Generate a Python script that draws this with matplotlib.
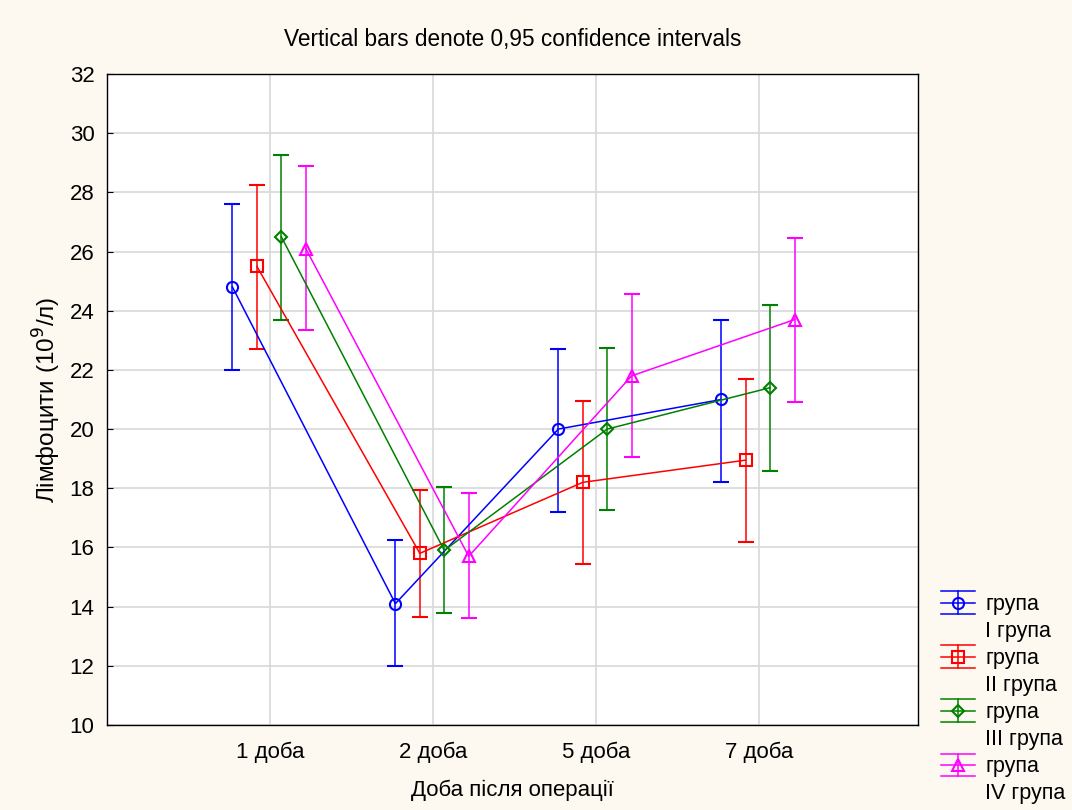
import numpy as np
import matplotlib.pyplot as plt
from matplotlib.lines import Line2D
from matplotlib.patches import Rectangle
from matplotlib.legend_handler import HandlerBase

plt.rcParams['font.family'] = ['Liberation Sans', 'DejaVu Sans']

days = ['1 доба', '2 доба', '5 доба', '7 доба']
group_names = ['I група', 'II група', 'III група', 'IV група']

# means and 95% CI bounds
mean_1 = [24.8, 14.1, 20.0, 21.0]
low_1 = [22.0, 12.0, 17.2, 18.2]
high_1 = [27.6, 16.25, 22.7, 23.7]

mean_2 = [25.5, 15.8, 18.2, 18.95]
low_2 = [22.7, 13.65, 15.45, 16.2]
high_2 = [28.25, 17.95, 20.95, 21.7]

mean_3 = [26.5, 15.9, 20.0, 21.4]
low_3 = [23.7, 13.8, 17.25, 18.6]
high_3 = [29.25, 18.05, 22.75, 24.2]

mean_4 = [26.1, 15.7, 21.8, 23.7]
low_4 = [23.35, 13.6, 19.05, 20.9]
high_4 = [28.9, 17.85, 24.55, 26.45]

means = [mean_1, mean_2, mean_3, mean_4]
lows = [low_1, low_2, low_3, low_4]
highs = [high_1, high_2, high_3, high_4]

colors = ['#0000ff', '#ff0000', '#008000', '#ff00ff']
markers = ['o', 's', 'D', '^']
msizes = [8, 8, 6, 8]
offsets = [-0.23, -0.08, 0.07, 0.22]


class ErrBarHandler(HandlerBase):
    # legend key like Statistica: two wide caps, vertical bar, marker
    def create_artists(self, legend, orig, xd, yd, w, h, fontsize, trans):
        c = orig.get_color()
        yc = h / 2 - yd
        dy = 0.75 * h
        x0, x1 = -xd, -xd + w
        xm = (x0 + x1) / 2
        arts = [
            Line2D([x0, x1], [yc, yc], color=c, lw=1.1),
            Line2D([x0, x1], [yc + dy, yc + dy], color=c, lw=1.1),
            Line2D([x0, x1], [yc - dy, yc - dy], color=c, lw=1.1),
            Line2D([xm, xm], [yc - dy, yc + dy], color=c, lw=1.1),
            Line2D([xm], [yc], marker=orig.get_marker(), markersize=orig.get_markersize(),
                   markerfacecolor='none', markeredgecolor=c, markeredgewidth=1.5,
                   linestyle='none'),
        ]
        for a in arts:
            a.set_transform(trans)
        return arts


fig = plt.figure(figsize=(10.72, 8.1), dpi=100, facecolor='#fdf9f0')
ax = fig.add_axes([0.0998, 0.105, 0.7562, 0.8036])
ax.set_facecolor('white')

x = np.arange(1, len(days) + 1)
for i in range(4):
    m = np.array(means[i])
    lo = m - np.array(lows[i])
    hi = np.array(highs[i]) - m
    ax.errorbar(x + offsets[i], m, yerr=[lo, hi], color=colors[i],
                marker=markers[i], markersize=msizes[i], markerfacecolor='none',
                markeredgewidth=1.5, linewidth=1.1, elinewidth=1.1,
                capsize=6, capthick=1.1)

ax.set_xlim(0, 4.975)
ax.set_ylim(10, 32)
ax.set_xticks(x)
ax.set_xticklabels(days, fontsize=16)
ax.set_yticks(np.arange(10, 33, 2))
ax.tick_params(axis='y', labelsize=16, direction='in', length=4, pad=9)
ax.tick_params(axis='x', length=0, pad=12)
ax.grid(True, color='#d8d8d8', linewidth=1.2)
ax.set_axisbelow(True)
for s in ax.spines.values():
    s.set_color('black')
    s.set_linewidth(1)

ax.set_xlabel('Доба після операції', fontsize=16, labelpad=12)
ax.set_ylabel('Лімфоцити (10$^9$/л)', fontsize=17.5, labelpad=5)
ax.set_title('Vertical bars denote 0,95 confidence intervals', fontsize=16.3, pad=20)

# legend: "група" row with key, then group name row without key
handles, labels = [], []
for i in range(4):
    handles.append(Line2D([], [], color=colors[i], marker=markers[i], markersize=msizes[i]))
    labels.append('група')
    handles.append(Rectangle((0, 0), 1, 1, visible=False))
    labels.append(group_names[i])

fig.legend(handles=handles, labels=labels, loc='lower left',
           bbox_to_anchor=(0.8597, -0.017), frameon=False, fontsize=15.5,
           handlelength=1.6, labelspacing=0.28, handletextpad=0.45,
           handler_map={Line2D: ErrBarHandler()})

plt.savefig('out.png', dpi=100, facecolor=fig.get_facecolor())
